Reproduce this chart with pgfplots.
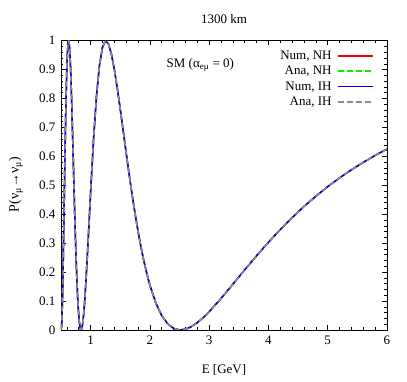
\documentclass[border=0pt]{standalone}
\usepackage{pgfplots}
\pgfplotsset{compat=1.18}
\usepackage{pgfplotstable}
\usepackage{fontspec}
\setmainfont{Liberation Serif}

\pgfplotstableread{
E P
0.50 0.0021
0.51 0.0118
0.52 0.0650
0.53 0.1525
0.54 0.2636
0.55 0.3878
0.56 0.5150
0.57 0.6371
0.58 0.7470
0.59 0.8398
0.60 0.9126
0.61 0.9635
0.62 0.9923
0.63 0.9998
0.64 0.9877
0.65 0.9580
0.66 0.9136
0.67 0.8571
0.68 0.7914
0.69 0.7191
0.70 0.6430
0.71 0.5653
0.72 0.4883
0.73 0.4136
0.74 0.3427
0.75 0.2770
0.76 0.2173
0.77 0.1644
0.78 0.1187
0.79 0.0804
0.80 0.0498
0.81 0.0267
0.82 0.0109
0.83 0.0022
0.84 0.0001
0.85 0.0043
0.86 0.0142
0.87 0.0293
0.88 0.0492
0.89 0.0733
0.90 0.1011
0.92 0.1655
0.94 0.2385
0.96 0.3167
0.98 0.3971
1.00 0.4771
1.05 0.6621
1.10 0.8113
1.15 0.9164
1.20 0.9776
1.25 0.9997
1.30 0.9894
1.35 0.9542
1.40 0.9009
1.45 0.8356
1.50 0.7632
1.55 0.6876
1.60 0.6117
1.65 0.5377
1.70 0.4673
1.75 0.4016
1.80 0.3410
1.85 0.2860
1.90 0.2367
1.95 0.1930
2.00 0.1547
2.10 0.0931
2.20 0.0496
2.30 0.0213
2.40 0.0056
2.50 0.0001
2.60 0.0027
2.70 0.0116
2.80 0.0254
2.90 0.0429
3.00 0.0632
3.20 0.1090
3.40 0.1582
3.60 0.2080
3.80 0.2567
4.00 0.3034
4.20 0.3473
4.40 0.3885
4.60 0.4271
4.80 0.4624
5.00 0.4956
5.20 0.5258
5.40 0.5537
5.60 0.5794
5.80 0.6036
6.00 0.6257
}\survtbl

\definecolor{numnh}{RGB}{255,0,0}
\definecolor{ananh}{RGB}{0,240,0}
\definecolor{numih}{RGB}{0,0,230}
\definecolor{anaih}{RGB}{140,140,140}

\begin{document}
\fontsize{13}{15}\selectfont
\begin{tikzpicture}[x=1pt,y=1pt]
\path[use as bounding box] (-61,-52) rectangle (346,330);
\begin{axis}[
  at={(0,0)}, anchor=south west,
  scale only axis, width=326pt, height=289.3pt,
  xmin=0.5, xmax=6, ymin=0, ymax=1,
  xtick={1,2,3,4,5,6},
  minor xtick={0.6,0.8,1.2,1.4,1.6,1.8,2.2,2.4,2.6,2.8,3.2,3.4,3.6,3.8,4.2,4.4,4.6,4.8,5.2,5.4,5.6,5.8},
  ytick={0,0.1,0.2,0.3,0.4,0.5,0.6,0.7,0.8,0.9,1},
  minor ytick={0.02,0.04,0.06,0.08,0.12,0.14,0.16,0.18,0.22,0.24,0.26,0.28,0.32,0.34,0.36,0.38,0.42,0.44,0.46,0.48,0.52,0.54,0.56,0.58,0.62,0.64,0.66,0.68,0.72,0.74,0.76,0.78,0.82,0.84,0.86,0.88,0.92,0.94,0.96,0.98},
  tick align=inside,
  major tick length=4.5pt, minor tick length=2.5pt,
  tick style={black, line width=0.6pt},
  axis line style={line width=0.9pt},
  /pgf/number format/assume math mode=true,
  ticklabel style={font=\fontsize{13}{15}\selectfont},
  yticklabel style={/pgf/number format/fixed, /pgf/number format/precision=1, xshift=-1pt},
  xticklabel style={yshift=-1pt},
  title={1300 km},
  title style={at={(axis description cs:0.5,1.054)}, anchor=center, font=\fontsize{13}{15}\selectfont},
  xlabel={E [GeV]},
  xlabel style={at={(axis description cs:0.5,-0.138)}, anchor=center, font=\fontsize{13}{15}\selectfont},
  legend plot pos=right,
  legend cell align=right,
  legend image code/.code={\draw[#1] (0pt,0.5pt) -- (35pt,0.5pt);},
  legend style={draw=none, fill=none, at={(axis description cs:0.965,0.975)}, anchor=north east, row sep=0.8pt, inner sep=1pt, font=\fontsize{13}{15}\selectfont, /tikz/every odd column/.append style={column sep=4pt}},
]
\addlegendimage{color=numnh, line width=1.8pt}
\addlegendentry{Num, NH}
\addlegendimage{color=ananh, line width=1.8pt, dash pattern=on 5.5pt off 3.5pt}
\addlegendentry{Ana, NH}
\addlegendimage{color=numih, line width=1.8pt}
\addlegendentry{Num, IH}
\addlegendimage{color=anaih, line width=1.8pt, dash pattern=on 5.5pt off 3.5pt}
\addlegendentry{Ana, IH}
\addplot[numnh, line width=1.5pt, forget plot] table[x=E,y=P] {\survtbl};
\addplot[ananh, line width=1.5pt, dash pattern=on 5.5pt off 3.5pt, forget plot] table[x=E,y=P] {\survtbl};
\addplot[numih, line width=1.5pt, forget plot] table[x=E,y=P] {\survtbl};
\addplot[anaih, line width=1.5pt, dash pattern=on 5.5pt off 3.5pt, forget plot] table[x=E,y=P] {\survtbl};
\node[font=\fontsize{13}{15}\selectfont] at (axis cs:2.85,0.916) {SM (α\textsubscript{eμ} = 0)};
\end{axis}
\node[rotate=90, font=\fontsize{14}{16}\selectfont] at (-45,145.5) {P(ν\textsubscript{μ}→ν\textsubscript{μ})};
\end{tikzpicture}
\end{document}
